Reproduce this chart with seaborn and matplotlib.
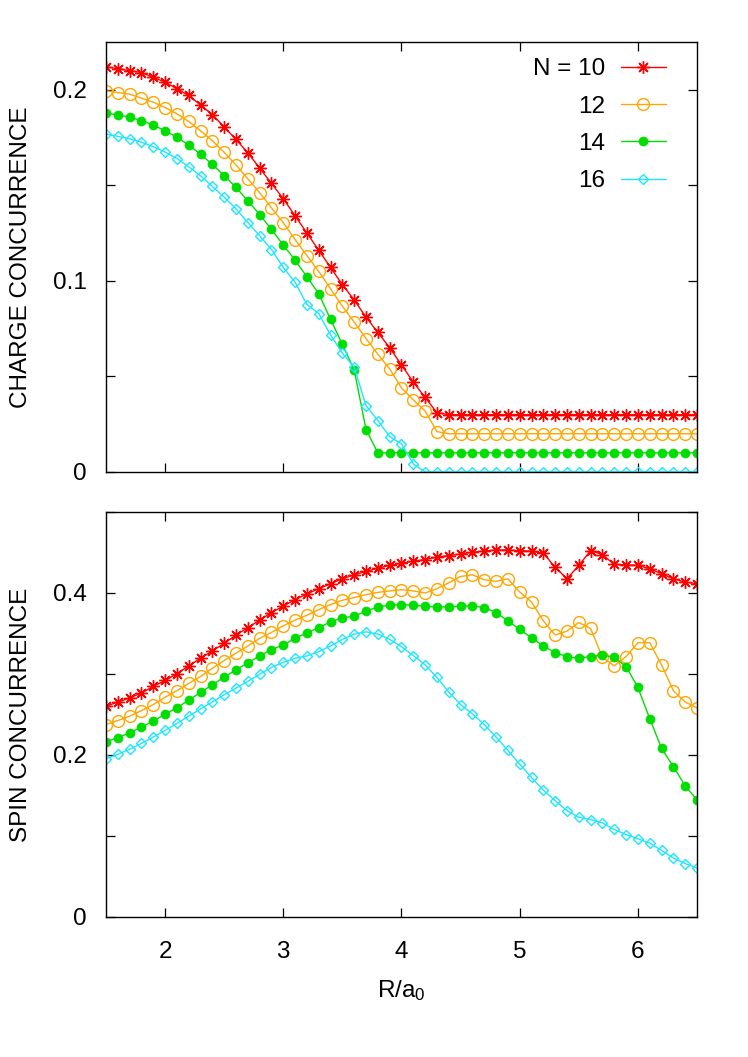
import numpy as np
import pandas as pd
import matplotlib
matplotlib.use("Agg")
import matplotlib.pyplot as plt
import seaborn as sns
from matplotlib.ticker import MultipleLocator, FuncFormatter

# ---------------- data ----------------
R = [1.5, 1.6, 1.7, 1.8, 1.9, 2.0, 2.1, 2.2, 2.3, 2.4,
     2.5, 2.6, 2.7, 2.8, 2.9, 3.0, 3.1, 3.2, 3.3, 3.4,
     3.5, 3.6, 3.7, 3.8, 3.9, 4.0, 4.1, 4.2, 4.3, 4.4,
     4.5, 4.6, 4.7, 4.8, 4.9, 5.0, 5.1, 5.2, 5.3, 5.4,
     5.5, 5.6, 5.7, 5.8, 5.9, 6.0, 6.1, 6.2, 6.3, 6.4, 6.5]

labels = ["N = 10", "12", "14", "16"]

charge_10 = [0.212, 0.211, 0.210, 0.209, 0.2065, 0.204, 0.2005, 0.197, 0.192, 0.187,
             0.1805, 0.174, 0.167, 0.159, 0.151, 0.143, 0.134, 0.125, 0.116, 0.107,
             0.098, 0.090, 0.081, 0.073, 0.065, 0.056, 0.047, 0.039, 0.031, 0.030,
             0.030, 0.030, 0.030, 0.030, 0.030, 0.030, 0.030, 0.030, 0.030, 0.030,
             0.030, 0.030, 0.030, 0.030, 0.030, 0.030, 0.030, 0.030, 0.030, 0.030, 0.030]
charge_12 = [0.1995, 0.1985, 0.1977, 0.1956, 0.1935, 0.1907, 0.1874, 0.1834, 0.1785, 0.1733,
             0.1672, 0.1606, 0.1534, 0.1461, 0.1382, 0.1304, 0.1216, 0.1132, 0.1049, 0.0958,
             0.0867, 0.0784, 0.0698, 0.0616, 0.0539, 0.0440, 0.0377, 0.0319, 0.0211, 0.020,
             0.020, 0.020, 0.020, 0.020, 0.020, 0.020, 0.020, 0.020, 0.020, 0.020,
             0.020, 0.020, 0.020, 0.020, 0.020, 0.020, 0.020, 0.020, 0.020, 0.020, 0.020]
charge_14 = [0.1878, 0.1868, 0.1857, 0.1838, 0.1815, 0.1785, 0.1752, 0.1710, 0.1663, 0.1609,
             0.1551, 0.1489, 0.1419, 0.1347, 0.1269, 0.1187, 0.1108, 0.1021, 0.0932, 0.0799,
             0.0667, 0.0534, 0.0222, 0.010, 0.010, 0.010, 0.010, 0.010, 0.010, 0.010,
             0.010, 0.010, 0.010, 0.010, 0.010, 0.010, 0.010, 0.010, 0.010, 0.010,
             0.010, 0.010, 0.010, 0.010, 0.010, 0.010, 0.010, 0.010, 0.010, 0.010, 0.010]
charge_16 = [0.1768, 0.1756, 0.1743, 0.1726, 0.1702, 0.1674, 0.1640, 0.1597, 0.1550, 0.1494,
             0.1438, 0.1377, 0.1305, 0.1236, 0.1164, 0.1070, 0.0993, 0.0876, 0.0829, 0.0717,
             0.0621, 0.0548, 0.0347, 0.0269, 0.0185, 0.0147, 0.0042, 0.0, 0.0, 0.0,
             0.0, 0.0, 0.0, 0.0, 0.0, 0.0, 0.0, 0.0, 0.0, 0.0,
             0.0, 0.0, 0.0, 0.0, 0.0, 0.0, 0.0, 0.0, 0.0, 0.0, 0.0]

spin_10 = [0.2601, 0.2654, 0.2703, 0.2765, 0.2847, 0.2920, 0.3002, 0.3100, 0.3194, 0.3284,
           0.3378, 0.3481, 0.3571, 0.3665, 0.3759, 0.3837, 0.3918, 0.3988, 0.4053, 0.4114,
           0.4176, 0.4225, 0.4266, 0.4307, 0.4340, 0.4368, 0.4393, 0.4413, 0.4442, 0.4462,
           0.4482, 0.4503, 0.4519, 0.4531, 0.4531, 0.4523, 0.4515, 0.4491, 0.4319, 0.4176,
           0.4340, 0.4523, 0.4474, 0.4352, 0.4348, 0.4340, 0.4299, 0.4237, 0.4176, 0.4135, 0.4114]
spin_12 = [0.2376, 0.2425, 0.2479, 0.2548, 0.2622, 0.2712, 0.2794, 0.2883, 0.2969, 0.3071,
           0.3166, 0.3256, 0.3346, 0.3440, 0.3513, 0.3595, 0.3665, 0.3726, 0.3795, 0.3857,
           0.3910, 0.3943, 0.3980, 0.4008, 0.4025, 0.4041, 0.4025, 0.4000, 0.4053, 0.4127,
           0.4204, 0.4225, 0.4164, 0.4143, 0.4176, 0.4012, 0.3890, 0.3656, 0.3481, 0.3530,
           0.3636, 0.3562, 0.3206, 0.3100, 0.3215, 0.3387, 0.3387, 0.3113, 0.2794, 0.2654, 0.2581]
spin_14 = [0.2164, 0.2213, 0.2274, 0.2344, 0.2417, 0.2503, 0.2585, 0.2675, 0.2773, 0.2867,
           0.2961, 0.3051, 0.3137, 0.3223, 0.3301, 0.3358, 0.3440, 0.3509, 0.3571, 0.3644,
           0.3693, 0.3714, 0.3775, 0.3828, 0.3849, 0.3857, 0.3849, 0.3837, 0.3828, 0.3828,
           0.3840, 0.3840, 0.3820, 0.3759, 0.3656, 0.3550, 0.3448, 0.3346, 0.3264, 0.3215,
           0.3194, 0.3215, 0.3235, 0.3206, 0.3092, 0.2834, 0.2450, 0.2082, 0.1857, 0.1620, 0.1444]
spin_16 = [0.1955, 0.2008, 0.2070, 0.2143, 0.2221, 0.2303, 0.2389, 0.2479, 0.2568, 0.2654,
           0.2744, 0.2826, 0.2908, 0.2998, 0.3080, 0.3145, 0.3194, 0.3223, 0.3276, 0.3346,
           0.3427, 0.3493, 0.3521, 0.3493, 0.3427, 0.3337, 0.3227, 0.3113, 0.2957, 0.2777,
           0.2622, 0.2507, 0.2376, 0.2221, 0.2057, 0.1886, 0.1722, 0.1566, 0.1436, 0.1313,
           0.1231, 0.1202, 0.1162, 0.1080, 0.1018, 0.0965, 0.0912, 0.0822, 0.0728, 0.0659, 0.0605]

charge = [charge_10, charge_12, charge_14, charge_16]
spin = [spin_10, spin_12, spin_14, spin_16]

# ---------------- styles ----------------
colors = ["#ff0000", "#ffa500", "#00dd00", "#1ee6ff"]
styles = [
    dict(marker=(8, 2, 0), markersize=9, markeredgewidth=1.0, markerfacecolor="none"),
    dict(marker="o", markersize=8.5, markeredgewidth=1.0, markerfacecolor="none"),
    dict(marker="o", markersize=6.5, markeredgewidth=0.5),
    dict(marker="D", markersize=5.5, markeredgewidth=1.0, markerfacecolor="none"),
]

sns.set_theme(style="ticks")
plt.rcParams["font.family"] = ["Liberation Sans", "DejaVu Sans"]
plt.rcParams["mathtext.default"] = "regular"
plt.rcParams["text.color"] = "black"
plt.rcParams["axes.labelcolor"] = "black"
plt.rcParams["xtick.color"] = "black"
plt.rcParams["ytick.color"] = "black"
FS = 17.5

fig = plt.figure(figsize=(7.48, 10.57), dpi=100)
ax1 = fig.add_axes([0.1417, 0.5535, 0.7901, 0.4068])
ax2 = fig.add_axes([0.1417, 0.1325, 0.7901, 0.3831])

for ax, series in ((ax1, charge), (ax2, spin)):
    for vals, lab, col, st in zip(series, labels, colors, styles):
        df = pd.DataFrame({"R": R, "C": vals})
        sns.lineplot(data=df, x="R", y="C", ax=ax, color=col, linewidth=1.0,
                     label=lab, markeredgecolor=col, **st)

fmt = FuncFormatter(lambda v, p: "0" if abs(v) < 1e-9 else f"{v:g}")
for ax in (ax1, ax2):
    ax.set_xlim(1.5, 6.5)
    ax.xaxis.set_major_locator(MultipleLocator(1))
    ax.yaxis.set_major_formatter(fmt)
    for sp in ax.spines.values():
        sp.set_visible(True)
        sp.set_linewidth(1.0)
        sp.set_color("black")
    ax.tick_params(which="both", direction="in", top=True, right=True,
                   length=6.5, width=0.9, color="black", labelcolor="black",
                   labelsize=FS)
    ax.tick_params(axis="y", pad=14)
    ax.tick_params(axis="x", pad=17)
    ax.set_xlabel("")

ax1.set_ylim(0, 0.225)
ax1.yaxis.set_major_locator(MultipleLocator(0.1))
ax1.yaxis.set_minor_locator(MultipleLocator(0.05))
ax1.tick_params(axis="x", labelbottom=False)
ax1.set_ylabel("CHARGE CONCURRENCE", fontsize=FS, color="black")
ax1.yaxis.set_label_coords(-0.125, 0.5)

ax2.set_ylim(0, 0.5)
ax2.yaxis.set_major_locator(MultipleLocator(0.2))
ax2.yaxis.set_minor_locator(MultipleLocator(0.1))
ax2.set_ylabel("SPIN CONCURRENCE", fontsize=FS, color="black")
ax2.yaxis.set_label_coords(-0.125, 0.5)
ax2.set_xlabel(r"R/a$_0$", fontsize=FS, color="black")
ax2.xaxis.set_label_coords(0.5, -0.152)

if ax2.get_legend() is not None:
    ax2.get_legend().remove()
leg = ax1.legend(loc="upper right", bbox_to_anchor=(0.9475, 0.962), frameon=False,
                 markerfirst=False, fontsize=FS, handlelength=1.85, handletextpad=0.65,
                 labelspacing=0.63, borderpad=0, borderaxespad=0)
for t in leg.get_texts():
    t.set_color("black")

fig.savefig("out.png", dpi=100)
